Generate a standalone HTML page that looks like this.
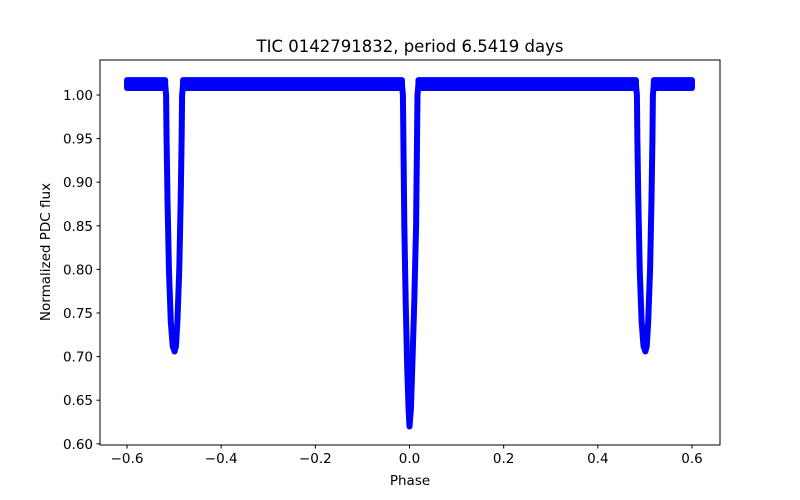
<!DOCTYPE html>
<html><head><meta charset="utf-8"><style>body{margin:0;background:#fff}svg{display:block;font-family:"DejaVu Sans","Liberation Sans",sans-serif}</style></head>
<body>
<svg id="chart" width="800" height="500" viewBox="0 0 800 500">
<rect width="800" height="500" fill="#fff"/>
<g id="plot"></g>
<rect x="100" y="60" width="620" height="385" fill="none" stroke="#000" stroke-width="1"/>
<g id="axes"></g>
<text x="410" y="52" font-size="16.5" text-anchor="middle">TIC 0142791832, period 6.5419 days</text>
<text x="410" y="485" font-size="13.5" text-anchor="middle">Phase</text>
<text transform="translate(50,252) rotate(-90)" font-size="13.5" text-anchor="middle">Normalized PDC flux</text>
</svg>
<script>
const xTicks=[-0.6,-0.4,-0.2,0.0,0.2,0.4,0.6];
const yTicks=[0.60,0.65,0.70,0.75,0.80,0.85,0.90,0.95,1.00];
const dipCenters=[-0.5,0.0,0.5];
const baseLow=1.008, baseHigh=1.017;
const phaseMin=-0.6, phaseMax=0.6;
// wall profiles: [phase offset, flux]
const secLeft=[[-0.019,1.012],[-0.017,1.0],[-0.016,0.95],[-0.014,0.88],[-0.011,0.80],[-0.007,0.74],[-0.003,0.712],[0.001,0.706]];
const secRight=[[0.019,1.012],[0.017,1.0],[0.016,0.95],[0.014,0.88],[0.011,0.80],[0.007,0.74],[0.004,0.712],[0.001,0.706]];
const priLeft=[[-0.016,1.012],[-0.014,1.0],[-0.013,0.95],[-0.011,0.85],[-0.008,0.76],[-0.005,0.69],[-0.002,0.64],[0.0,0.62]];
const priRight=[[0.019,1.012],[0.017,1.0],[0.016,0.95],[0.014,0.85],[0.010,0.76],[0.006,0.69],[0.003,0.64],[0.0,0.62]];
const dipProfiles=[[secLeft,secRight],[priLeft,priRight],[secLeft,secRight]];

const X=v=>409.5+(v)*470.8;
const Y=v=>95+(1.0-v)*872;
const NS="http://www.w3.org/2000/svg";
const plot=document.getElementById('plot'), axes=document.getElementById('axes');
function mk(t,a,p){const e=document.createElementNS(NS,t);for(const k in a)e.setAttribute(k,a[k]);p.appendChild(e);return e;}

const bounds=[phaseMin];
dipCenters.forEach((c,i)=>{bounds.push(c+dipProfiles[i][0][0][0]);bounds.push(c+dipProfiles[i][1][0][0]);});
bounds.push(phaseMax);
for(let i=0;i<bounds.length;i+=2){
  const r=mk('rect',{x:X(bounds[i])-3,y:Y(baseHigh)-3,width:X(bounds[i+1])-X(bounds[i])+6,height:Y(baseLow)-Y(baseHigh)+6,rx:3,fill:'blue'},plot);
  
  
}
dipCenters.forEach((c,i)=>{
  dipProfiles[i].forEach((wall,j)=>{
    const pts=wall.map(p=>X(c+p[0])+','+Y(p[1])).join(' ');
    const pl=mk('polyline',{points:pts,fill:'none',stroke:'blue','stroke-width':6,'stroke-linecap':'round','stroke-linejoin':'round'},plot);
    
    
  });
});
xTicks.forEach(t=>{
  const x=X(t);
  mk('line',{x1:x,x2:x,y1:445,y2:448.5,stroke:'#000'},axes);
  const tx=mk('text',{x:x,y:463,'font-size':13.5,'text-anchor':'middle'},axes);
  tx.textContent=(t<0?'\u2212':'')+Math.abs(t).toFixed(1);
  
  
});
yTicks.forEach(t=>{
  const y=Y(t);
  mk('line',{x1:96.5,x2:100,y1:y,y2:y,stroke:'#000'},axes);
  const tx=mk('text',{x:93,y:y+5,'font-size':13.5,'text-anchor':'end'},axes);
  tx.textContent=t.toFixed(2);
  
  
});
</script>
</body></html>
